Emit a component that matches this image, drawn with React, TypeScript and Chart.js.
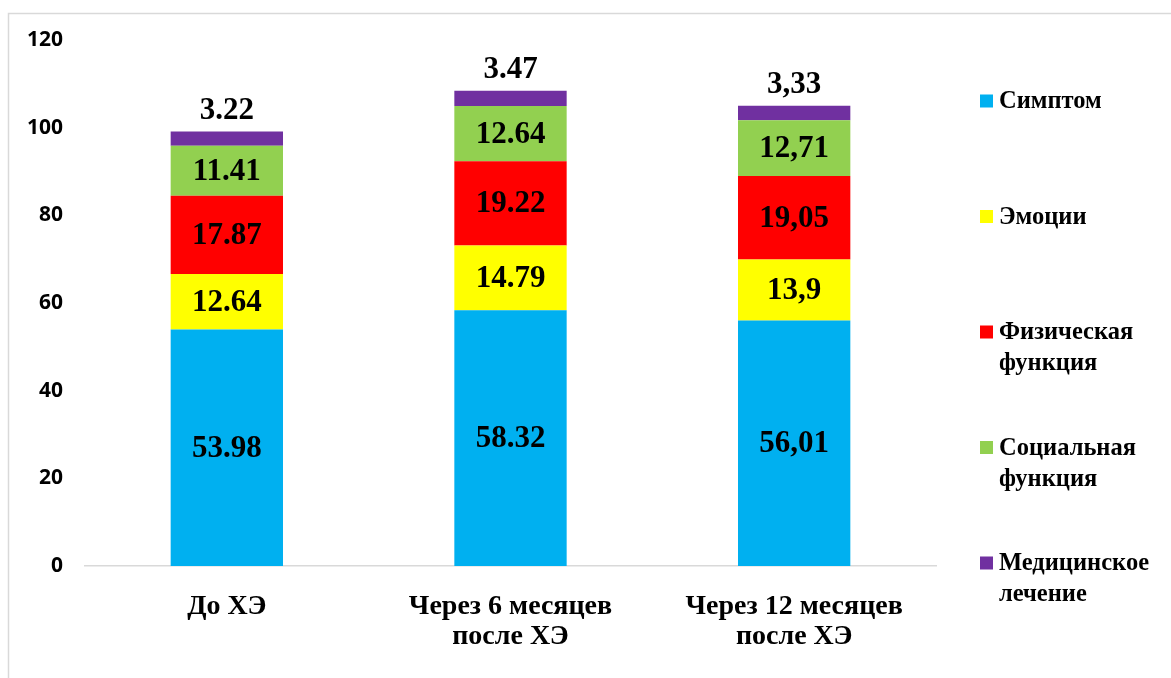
import { useEffect, useRef } from 'react';
import { Chart, registerables } from 'chart.js';

Chart.register(...registerables);

// Categories (multi-line axis labels) and the decimal separator used for each column's labels
const categories: string[][] = [['До ХЭ'], ['Через 6 месяцев', 'после ХЭ'], ['Через 12 месяцев', 'после ХЭ']];
const decimalSeparators = ['.', '.', ','];

// Series, bottom to top of each stack
const seriesNames = ['Симптом', 'Эмоции', 'Физическая функция', 'Социальная функция', 'Медицинское лечение'];
const symptom = [53.98, 58.32, 56.01];
const emotions = [12.64, 14.79, 13.9];
const physical = [17.87, 19.22, 19.05];
const social = [11.41, 12.64, 12.71];
const medical = [3.22, 3.47, 3.33];
const seriesColors = ['#00B0F0', '#FFFF00', '#FF0000', '#92D050', '#7030A0'];

// Value axis ticks
const yTicks = [0, 20, 40, 60, 80, 100, 120];

const SERIF = '"Liberation Serif", "Times New Roman", serif';
const SANS = '"Open Sans", "Noto Sans", sans-serif';

const frame = {
  id: 'frame',
  beforeDraw(chart: any) {
    const { ctx } = chart;
    ctx.save();
    ctx.fillStyle = '#ffffff';
    ctx.fillRect(0, 0, chart.width, chart.height);
    ctx.strokeStyle = '#d9d9d9';
    ctx.lineWidth = 1.5;
    ctx.strokeRect(8.5, 13.5, chart.width + 20, chart.height + 20);
    ctx.restore();
  },
};

const valueLabels = {
  id: 'valueLabels',
  afterDatasetsDraw(chart: any) {
    const { ctx } = chart;
    ctx.save();
    ctx.font = `bold 31px ${SERIF}`;
    ctx.fillStyle = '#000000';
    ctx.textAlign = 'center';
    ctx.textBaseline = 'middle';
    const last = chart.data.datasets.length - 1;
    chart.data.datasets.forEach((ds: any, di: number) => {
      const meta = chart.getDatasetMeta(di);
      meta.data.forEach((bar: any, i: number) => {
        const text = String(ds.data[i]).replace('.', decimalSeparators[i]);
        const { x, y, base } = bar.getProps(['x', 'y', 'base'], true);
        const cy = di === last ? y - 21 : (y + base) / 2 + 1;
        ctx.fillText(text, x, cy);
      });
    });
    ctx.restore();
  },
};

const sideLegend = {
  id: 'sideLegend',
  afterDraw(chart: any) {
    const { ctx } = chart;
    ctx.save();
    ctx.font = `bold 24.5px ${SERIF}`;
    ctx.textAlign = 'left';
    ctx.textBaseline = 'middle';
    chart.data.datasets.forEach((ds: any, di: number) => {
      const cy = 101 + di * 115.5;
      ctx.fillStyle = ds.backgroundColor;
      ctx.fillRect(980, cy - 6.5, 13, 13);
      ctx.fillStyle = '#000000';
      const lines = String(ds.label).split(' ');
      lines.forEach((line: string, li: number) => {
        ctx.fillText(line, 999, cy + li * 31 + 1);
      });
    });
    ctx.restore();
  },
};

export default function App() {
  const canvasRef = useRef<HTMLCanvasElement | null>(null);

  useEffect(() => {
    const canvas = canvasRef.current;
    if (!canvas) return;
    const seriesValues = [symptom, emotions, physical, social, medical];
    const chart = new Chart(canvas, {
      type: 'bar',
      data: {
        labels: categories,
        datasets: seriesNames.map((name, i) => ({
          label: name,
          data: seriesValues[i],
          backgroundColor: seriesColors[i],
          borderWidth: 0,
          categoryPercentage: 0.4,
          barPercentage: 0.99,
        })),
      },
      options: {
        responsive: false,
        animation: false,
        layout: { padding: { top: 40, right: 235, left: 0, bottom: 0 } },
        plugins: {
          legend: { display: false },
          tooltip: { enabled: false },
        },
        scales: {
          x: {
            stacked: true,
            grid: { display: false, drawTicks: false },
            border: { display: true, color: '#d9d9d9', width: 1.5 },
            ticks: {
              color: '#000000',
              font: { family: SERIF, size: 28, weight: 'bold', lineHeight: 1.07 },
              padding: 26,
              maxRotation: 0,
              autoSkip: false,
            },
            afterFit(scale: any) {
              scale.height = 112;
            },
          },
          y: {
            stacked: true,
            min: yTicks[0],
            max: yTicks[yTicks.length - 1],
            grid: { display: false, drawTicks: false },
            border: { display: false },
            ticks: {
              stepSize: yTicks[1] - yTicks[0],
              color: '#000000',
              font: { family: SANS, size: 21, weight: 'bold' },
              padding: 22,
            },
            afterFit(scale: any) {
              scale.width = 85;
            },
          },
        },
      },
      plugins: [frame, valueLabels, sideLegend],
    });
    return () => chart.destroy();
  }, []);

  return (
    <div style={{ position: 'fixed', left: 0, top: 0, width: 1171, height: 678, background: '#fff' }}>
      <canvas ref={canvasRef} width={1171} height={678} style={{ display: 'block' }} />
    </div>
  );
}
